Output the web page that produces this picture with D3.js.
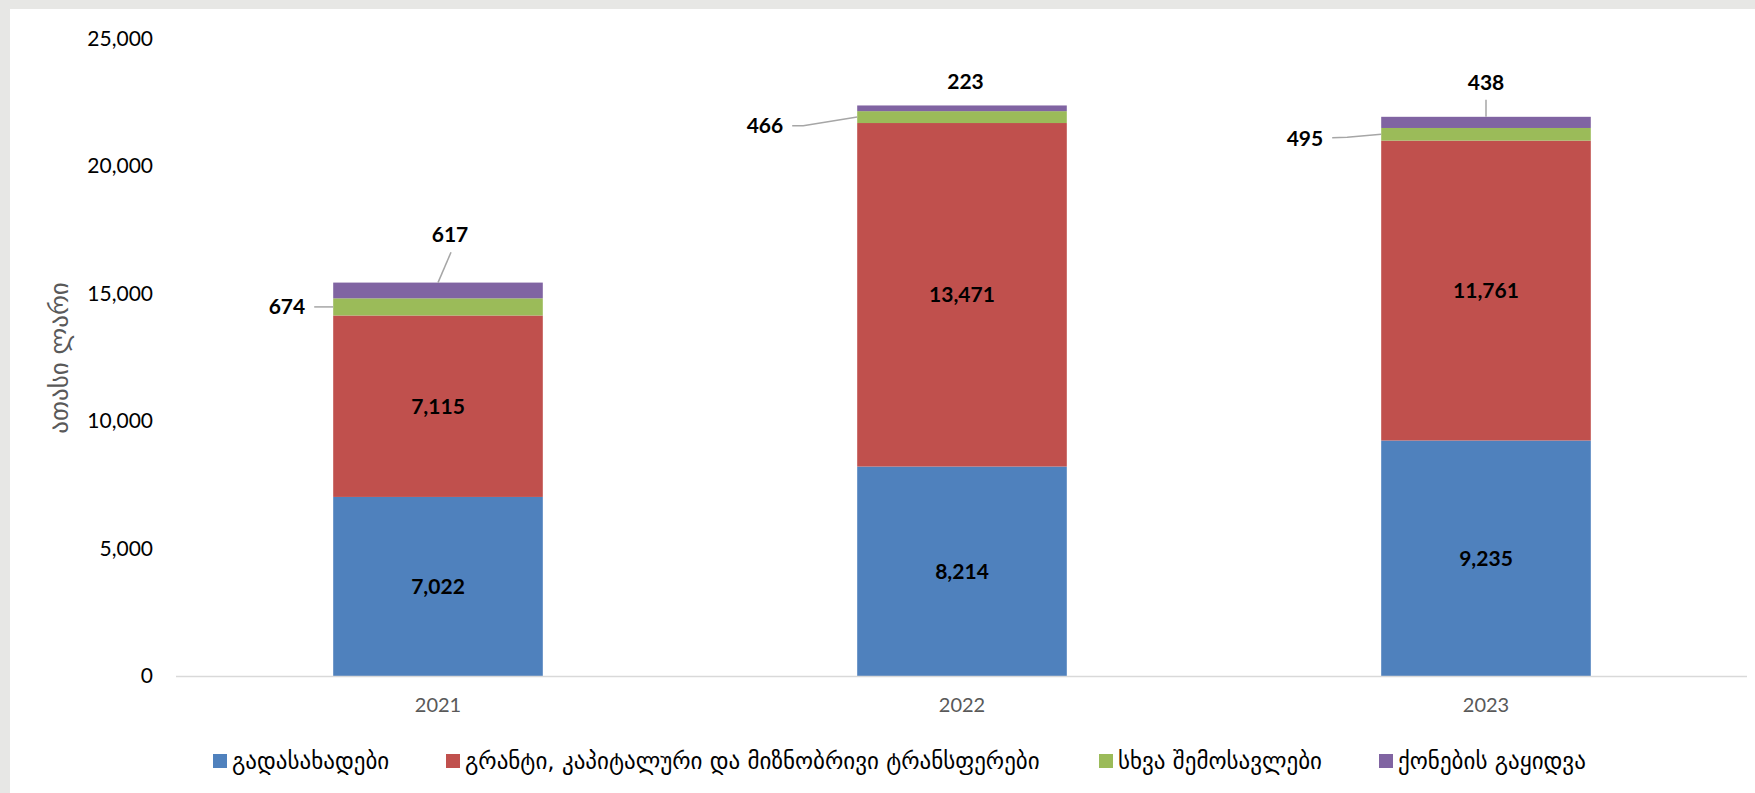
<!DOCTYPE html>
<html>
<head>
<meta charset="utf-8">
<script src="https://cdn.jsdelivr.net/npm/d3@7"></script>
<style>
  html, body { margin: 0; padding: 0; background: #e7e7e5; }
  svg { display: block; }
</style>
</head>
<body>
<svg id="chart" width="1755" height="793"></svg>
<script>
// ---------------- data ----------------
const years = ["2021", "2022", "2023"];
const seriesNames = [
  "გადასახადები",
  "გრანტი, კაპიტალური და მიზნობრივი ტრანსფერები",
  "სხვა შემოსავლები",
  "ქონების გაყიდვა"
];
const taxes     = [7022, 8214, 9235];
const grants    = [7115, 13471, 11761];
const otherRev  = [674, 466, 495];
const assetSale = [617, 223, 438];
const yTicks = [0, 5000, 10000, 15000, 20000, 25000];
const yTitle = "ათასი ლარი";

// ---------------- style / layout ----------------
const colors = ["#4F81BD", "#C0504D", "#9BBB59", "#8064A2"];
const latin = "Lato, 'DejaVu Sans', sans-serif";
const W = 1755, H = 793;

const svg = d3.select("#chart");
svg.append("rect").attr("width", W).attr("height", H).attr("fill", "#e7e7e5");
svg.append("rect").attr("x", 10).attr("y", 9).attr("width", W - 10).attr("height", H - 9).attr("fill", "#ffffff");

const x = d3.scaleBand().domain(years).range([176, 1748]).paddingInner(0.6).paddingOuter(0.3);
const y = d3.scaleLinear().domain([0, 25000]).range([676, 38.5]);

// stack
const rows = years.map((yr, i) => ({ year: yr, s0: taxes[i], s1: grants[i], s2: otherRev[i], s3: assetSale[i] }));
const stack = d3.stack().keys(["s0", "s1", "s2", "s3"])(rows);

// y axis
const yAxis = d3.axisLeft(y).tickValues(yTicks).tickSize(0).tickPadding(23).tickFormat(d3.format(","));
const gy = svg.append("g").attr("transform", "translate(176,0)").call(yAxis);
gy.select(".domain").remove();
gy.selectAll("text").attr("font-family", latin).attr("font-size", 21).attr("fill", "#000");

// bars
stack.forEach((layer, k) => {
  svg.append("g").selectAll("rect").data(layer).join("rect")
    .attr("x", d => x(d.data.year))
    .attr("width", x.bandwidth())
    .attr("y", d => y(d[1]))
    .attr("height", d => y(d[0]) - y(d[1]))
    .attr("fill", colors[k]);
});

// x axis
const xAxis = d3.axisBottom(x).tickSize(0).tickPadding(22);
const gx = svg.append("g").attr("transform", "translate(0,676)").call(xAxis);
gx.select(".domain").attr("stroke", "#d9d9d9").attr("stroke-width", 1.5).attr("d", "M176,0.5H1747");
gx.selectAll("text").attr("font-family", latin).attr("font-size", 20).attr("fill", "#595959");

// y title
svg.append("text")
  .attr("transform", "translate(68,358) rotate(-90)")
  .attr("text-anchor", "middle")
  .attr("font-family", "'DejaVu Sans', sans-serif")
  .attr("font-size", 25)
  .attr("fill", "#595959")
  .text(yTitle);

const fmt = d3.format(",");
// inside labels (series 0 and 1)
[0, 1].forEach(k => {
  svg.append("g").selectAll("text").data(stack[k]).join("text")
    .attr("x", d => x(d.data.year) + x.bandwidth() / 2)
    .attr("y", d => y((d[0] + d[1]) / 2))
    .attr("dy", "0.35em")
    .attr("text-anchor", "middle")
    .attr("font-family", latin).attr("font-weight", "bold").attr("font-size", 21)
    .attr("fill", "#000")
    .text(d => fmt(d[1] - d[0]));
});

// outside labels for series 2 (green) - to the left with leader
const greenLab = [ {tx: -28, ty: 0, pts: [[-19, 0], [0, 0]]},
                   {tx: -74, ty: 9, pts: [[-65, 8.6], [-54, 8.6], [0, 0]]},
                   {tx: -58, ty: 4, pts: [[-49, 3.4], [-34, 3]], end: true} ];
// outside labels for series 3 (purple) - above with leader
const purpleLab = [ {tx: 12, ty: -48, pts: [[13, -30.3], [0, 0]]},
                    {tx: 3.5, ty: -24, pts: null},
                    {tx: 0, ty: -34, pts: [[0, -17], [0, 0]]} ];

const line = d3.line();
stack[2].forEach((d, i) => {
  const bx = x(d.data.year), by = y((d[0] + d[1]) / 2);
  const c = greenLab[i];
  let pts = c.pts.map(p => [bx + p[0], by + p[1]]);
  if (c.end) pts.push([bx, by]);
  svg.append("path").attr("d", line(pts)).attr("fill", "none").attr("stroke", "#a6a6a6").attr("stroke-width", 1.5);
  svg.append("text").attr("x", bx + c.tx).attr("y", by + c.ty).attr("dy", "0.35em")
    .attr("text-anchor", "end")
    .attr("font-family", latin).attr("font-weight", "bold").attr("font-size", 21).attr("fill", "#000")
    .text(fmt(d[1] - d[0]));
});
stack[3].forEach((d, i) => {
  const bx = x(d.data.year) + x.bandwidth() / 2, by = y(d[1]);
  const c = purpleLab[i];
  if (c.pts) {
    const pts = c.pts.map(p => [bx + p[0], by + p[1]]);
    svg.append("path").attr("d", line(pts)).attr("fill", "none").attr("stroke", "#a6a6a6").attr("stroke-width", 1.5);
  }
  svg.append("text").attr("x", bx + c.tx).attr("y", by + c.ty).attr("dy", "0.35em")
    .attr("text-anchor", "middle")
    .attr("font-family", latin).attr("font-weight", "bold").attr("font-size", 21).attr("fill", "#000")
    .text(fmt(d[1] - d[0]));
});

// legend
const legendX = [213, 446, 1099, 1379];
const lg = svg.append("g");
seriesNames.forEach((name, k) => {
  lg.append("rect").attr("x", legendX[k]).attr("y", 754).attr("width", 14).attr("height", 14).attr("fill", colors[k]);
  lg.append("text").attr("x", legendX[k] + 19).attr("y", 761).attr("dy", "0.35em")
    .attr("font-family", "'DejaVu Sans', sans-serif").attr("font-size", 23).attr("fill", "#000")
    .text(name);
});
</script>
</body>
</html>
